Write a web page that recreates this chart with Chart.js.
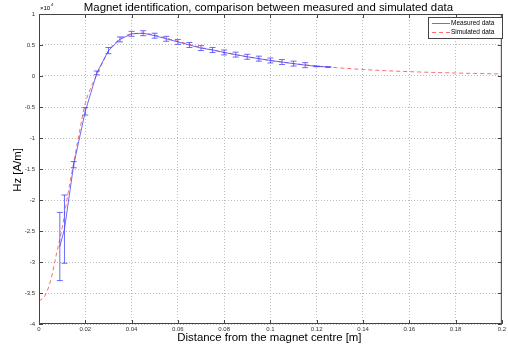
<!DOCTYPE html>
<html>
<head>
<meta charset="utf-8">
<script src="https://cdn.jsdelivr.net/npm/chart.js@4.4.1/dist/chart.umd.min.js"></script>
<style>
  html, body { margin: 0; padding: 0; background: #fff; }
  #wrap { width: 508px; height: 351px; }
</style>
</head>
<body>
<div id="wrap"><canvas id="chart" width="508" height="351"></canvas></div>
<script>
// values in units of 10^4 A/m
const measuredX = [0.009, 0.011, 0.015, 0.02, 0.025, 0.03, 0.035, 0.04, 0.045, 0.05, 0.055, 0.06, 0.065,
  0.07, 0.075, 0.08, 0.085, 0.09, 0.095, 0.1, 0.105, 0.11, 0.115, 0.12, 0.125];
const measuredY = [-2.75, -2.47, -1.43, -0.57, 0.05, 0.41, 0.59, 0.68, 0.69, 0.65, 0.6, 0.55, 0.5,
  0.45, 0.42, 0.38, 0.345, 0.31, 0.28, 0.25, 0.225, 0.2, 0.175, 0.155, 0.145];
const measuredErr = [0.55, 0.55, 0.05, 0.06, 0.03, 0.05, 0.04, 0.04, 0.04, 0.04, 0.04, 0.04, 0.04,
  0.04, 0.04, 0.04, 0.04, 0.04, 0.04, 0.04, 0.04, 0.04, 0.04, 0.005, 0.005];

const simX = [0, 0.0025, 0.005, 0.0075, 0.01, 0.0125, 0.015, 0.0175, 0.02, 0.0225, 0.025, 0.0275, 0.03,
  0.0325, 0.035, 0.0375, 0.04, 0.045, 0.05, 0.055, 0.06, 0.065, 0.07, 0.075, 0.08, 0.085, 0.09, 0.095,
  0.1, 0.105, 0.11, 0.115, 0.12, 0.125, 0.13, 0.14, 0.15, 0.16, 0.17, 0.18, 0.19, 0.2];
const simY = [-3.63, -3.55, -3.3, -2.88, -2.45, -1.9, -1.4, -0.9, -0.44, -0.18, 0.02, 0.22, 0.4,
  0.52, 0.6, 0.65, 0.68, 0.69, 0.66, 0.61, 0.56, 0.51, 0.46, 0.42, 0.38, 0.345, 0.31, 0.28,
  0.25, 0.225, 0.2, 0.18, 0.16, 0.145, 0.13, 0.105, 0.085, 0.07, 0.058, 0.048, 0.04, 0.033];

const xTicks = [0, 0.02, 0.04, 0.06, 0.08, 0.1, 0.12, 0.14, 0.16, 0.18, 0.2];
const yTicks = [1, 0.5, 0, -0.5, -1, -1.5, -2, -2.5, -3, -3.5, -4];

const titleText = 'Magnet identification, comparison between measured and simulated data';
const xLabel = 'Distance from the magnet centre [m]';
const yLabel = 'Hz [A/m]';
const FONT = '"Liberation Sans", Arial, sans-serif';

const measuredColor = 'rgba(70,70,255,0.8)';
const simColor = 'rgba(255,70,70,0.8)';

// error bars for the measured series
const errorBars = {
  id: 'errorBars',
  afterDatasetDraw(chart, args) {
    if (args.index !== 0) return;
    const {ctx, scales: {x, y}} = chart;
    ctx.save();
    ctx.strokeStyle = measuredColor;
    ctx.lineWidth = 1;
    measuredX.forEach((v, i) => {
      const px = x.getPixelForValue(v);
      const top = y.getPixelForValue(measuredY[i] + measuredErr[i]);
      const bot = y.getPixelForValue(measuredY[i] - measuredErr[i]);
      ctx.beginPath();
      ctx.moveTo(px, top); ctx.lineTo(px, bot);
      ctx.moveTo(px - 3, top); ctx.lineTo(px + 3, top);
      ctx.moveTo(px - 3, bot); ctx.lineTo(px + 3, bot);
      ctx.stroke();
    });
    ctx.restore();
  }
};

// frame, inward ticks, titles, exponent and legend
const decorations = {
  id: 'decorations',
  afterDraw(chart) {
    const {ctx, chartArea: a, scales: {x, y}} = chart;
    ctx.save();
    ctx.strokeStyle = '#444';
    ctx.lineWidth = 1;
    ctx.strokeRect(a.left + 0.5, a.top + 0.5, a.right - a.left - 1, a.bottom - a.top - 1);
    ctx.beginPath();
    xTicks.forEach(v => {
      const px = Math.round(x.getPixelForValue(v)) + 0.5;
      ctx.moveTo(px, a.bottom); ctx.lineTo(px, a.bottom - 4);
      ctx.moveTo(px, a.top); ctx.lineTo(px, a.top + 4);
    });
    yTicks.forEach(v => {
      const py = Math.round(y.getPixelForValue(v)) + 0.5;
      ctx.moveTo(a.left, py); ctx.lineTo(a.left + 4, py);
      ctx.moveTo(a.right, py); ctx.lineTo(a.right - 4, py);
    });
    ctx.stroke();

    const cx = (a.left + a.right) / 2;
    ctx.fillStyle = '#000';
    ctx.textAlign = 'center';
    ctx.textBaseline = 'middle';
    ctx.font = '11.4px ' + FONT;
    ctx.fillText(titleText, cx - 2, 7.5);
    ctx.font = '11.4px ' + FONT;
    ctx.fillText(xLabel, cx - 1, 338);
    ctx.save();
    ctx.translate(18, (a.top + a.bottom) / 2 + 1);
    ctx.rotate(-Math.PI / 2);
    ctx.fillText(yLabel, 0, 0);
    ctx.restore();

    ctx.textAlign = 'left';
    ctx.font = '6px ' + FONT;
    ctx.fillText('\u00d710', a.left + 1, 8);
    ctx.font = '4px ' + FONT;
    ctx.fillText('4', a.left + 12, 5);

    // legend
    const lx = 428, ly = 17, lw = 74, lh = 21;
    ctx.fillStyle = '#fff';
    ctx.fillRect(lx, ly, lw, lh);
    ctx.strokeStyle = '#444';
    ctx.strokeRect(lx + 0.5, ly + 0.5, lw, lh);
    ctx.lineWidth = 1;
    ctx.strokeStyle = measuredColor;
    ctx.beginPath(); ctx.moveTo(432, 23.5); ctx.lineTo(450, 23.5); ctx.stroke();
    ctx.strokeStyle = simColor;
    ctx.setLineDash([4, 3]);
    ctx.beginPath(); ctx.moveTo(432, 32.5); ctx.lineTo(450, 32.5); ctx.stroke();
    ctx.setLineDash([]);
    ctx.fillStyle = '#000';
    ctx.font = '6.5px ' + FONT;
    ctx.fillText('Measured data', 451, 23.5);
    ctx.fillText('Simulated data', 451, 32.5);
    ctx.restore();
  }
};

new Chart(document.getElementById('chart'), {
  type: 'line',
  data: {
    datasets: [
      {
        label: 'Measured data',
        data: measuredX.map((v, i) => ({x: v, y: measuredY[i]})),
        borderColor: measuredColor,
        borderWidth: 1,
        pointRadius: 0,
        tension: 0,
      },
      {
        label: 'Simulated data',
        data: simX.map((v, i) => ({x: v, y: simY[i]})),
        borderColor: simColor,
        borderWidth: 1,
        borderDash: [4, 3],
        pointRadius: 0,
        cubicInterpolationMode: 'monotone',
      },
    ],
  },
  options: {
    responsive: false,
    animation: false,
    layout: {padding: {top: 14, right: 4, left: 0, bottom: 0}},
    plugins: {legend: {display: false}, tooltip: {enabled: false}, title: {display: false}},
    scales: {
      x: {
        type: 'linear',
        min: 0, max: 0.2,
        afterFit: s => { s.height = 27; },
        afterBuildTicks: s => { s.ticks = xTicks.map(v => ({value: v})); },
        ticks: {
          font: {size: 6, family: FONT}, color: '#333', padding: 2,
          maxRotation: 0, autoSkip: false,
          callback: v => String(+v.toFixed(3)),
        },
        grid: {color: '#bbb', drawTicks: false},
        border: {display: false, dash: [1, 2]},
      },
      y: {
        min: -4, max: 1,
        afterFit: s => { s.width = 39; },
        afterBuildTicks: s => { s.ticks = yTicks.map(v => ({value: v})); },
        ticks: {
          font: {size: 6, family: FONT}, color: '#333', padding: 4,
          autoSkip: false,
          callback: v => String(+v.toFixed(3)),
        },
        grid: {color: '#bbb', drawTicks: false},
        border: {display: false, dash: [1, 2]},
      },
    },
  },
  plugins: [errorBars, decorations],
});
</script>
</body>
</html>
